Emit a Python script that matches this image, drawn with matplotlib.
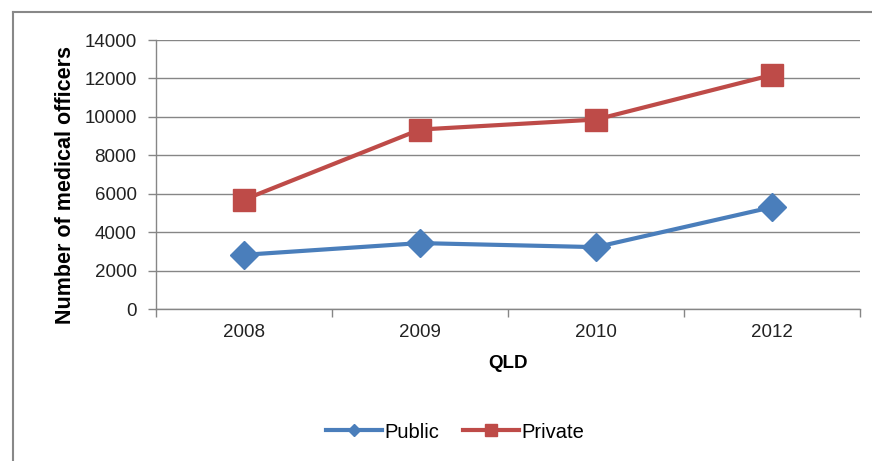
import matplotlib.pyplot as plt
from matplotlib.lines import Line2D

# Data
years = ['2008', '2009', '2010', '2012']
public = [2820, 3430, 3220, 5300]
private = [5690, 9340, 9860, 12180]
y_ticks = [0, 2000, 4000, 6000, 8000, 10000, 12000, 14000]

plt.rcParams['font.family'] = ['Liberation Sans', 'DejaVu Sans']

fig = plt.figure(figsize=(8.72, 4.61), dpi=100)
ax = fig.add_axes([156 / 872, 1 - 309 / 461, 704 / 872, 269 / 461])

x = list(range(len(years)))
ax.plot(x, public, color='#4a7ebb', linewidth=3, marker='D', markersize=14,
        label='Public', zorder=3)
ax.plot(x, private, color='#be4b48', linewidth=3, marker='s', markersize=16,
        label='Private', zorder=3)

ax.set_xlim(-0.5, len(years) - 0.5)
ax.set_ylim(0, 14000)
ax.set_yticks(y_ticks)
ax.set_yticklabels([str(v) for v in y_ticks])
ax.set_xticks(x)
ax.set_xticklabels(years)
ax.set_xticks([i - 0.5 for i in range(len(years) + 1)], minor=True)
ax.tick_params(axis='x', which='major', length=0, pad=11, labelsize=13.5, colors='#222222')
ax.tick_params(axis='x', which='minor', length=6, color='#868686', width=1)
ax.tick_params(axis='y', length=6, color='#868686', width=1, pad=8, labelsize=13.5,
               labelcolor='#222222')

ax.grid(axis='y', color='#868686', linewidth=1)
ax.set_axisbelow(True)
for side in ['top', 'right']:
    ax.spines[side].set_visible(False)
for side in ['left', 'bottom']:
    ax.spines[side].set_color('#868686')
    ax.spines[side].set_linewidth(1)

ax.set_ylabel('Number of medical officers', fontsize=15.5, fontweight='bold')
ax.yaxis.set_label_coords(-0.114, 0.46)
ax.set_xlabel('QLD', fontsize=13.5, fontweight='bold', labelpad=10)

handles = [
    Line2D([], [], color='#4a7ebb', linewidth=3, marker='D', markersize=6),
    Line2D([], [], color='#be4b48', linewidth=3, marker='s', markersize=9),
]
fig.legend(handles, ['Public', 'Private'], loc='center', bbox_to_anchor=(455 / 872, 1 - 432 / 461),
           ncol=2, frameon=False, fontsize=14.5, handlelength=2.8, handletextpad=0.1,
           columnspacing=1.2)

# outer chart frame (left and top edges visible)
fig.add_artist(Line2D([13 / 872, 13 / 872], [0, 1 - 12 / 461], color='#888888', linewidth=1.5))
fig.add_artist(Line2D([13 / 872, 1], [1 - 12 / 461, 1 - 12 / 461], color='#888888', linewidth=1.5))

plt.savefig('out.png', dpi=100)
